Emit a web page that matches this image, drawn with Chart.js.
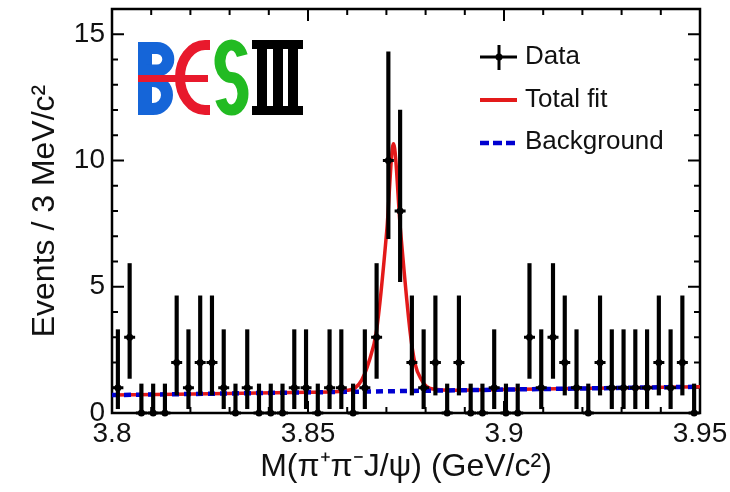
<!DOCTYPE html>
<html>
<head>
<meta charset="utf-8">
<script src="https://cdn.jsdelivr.net/npm/chart.js@4.4.1/dist/chart.umd.min.js"></script>
<style>
  html, body { margin: 0; padding: 0; background: #fff; }
</style>
</head>
<body>
<canvas id="massChart" width="730" height="492"></canvas>
<script>
// 3 MeV bins from 3.80 to 3.95 GeV
const binLow = 3.8;
const binWidth = 0.003;
const counts = [1, 3, 0, 0, 0, 2, 1, 2, 2, 1,
                0, 1, 0, 0, 0, 1, 1, 0, 1, 1,
                0, 1, 3, 10, 8, 2, 1, 2, 0, 2,
                0, 0, 1, 0, 0, 3, 1, 3, 2, 1,
                0, 2, 1, 1, 1, 1, 2, 1, 2, 0];
// error bar ends, per count (asymmetric)
const errLow = { 0: 0, 1: 0.17, 2: 0.71, 3: 1.37, 8: 5.2, 10: 6.9 };
const errHigh = { 0: 1.15, 1: 3.3, 2: 4.64, 3: 5.92, 8: 12.0, 10: 14.3 };

// total fit curve
const fitX = [3.8, 3.85, 3.858, 3.86, 3.862, 3.8637, 3.8654, 3.8675, 3.8701, 3.8718,
              3.8736, 3.876, 3.8773, 3.879, 3.8803, 3.883, 3.886, 3.9, 3.95];
const fitY = [0.71, 0.82, 0.85, 0.9, 0.99, 1.3, 1.96, 3.28, 7.23, 10.66,
              7.23, 3.28, 1.96, 1.3, 1.04, 0.93, 0.9, 0.93, 1.04];
// background
const bkgX = [3.8, 3.875, 3.95];
const bkgY = [0.71, 0.87, 1.04];

const xTicks = [3.8, 3.85, 3.9, 3.95];
const yTicks = [0, 5, 10, 15];

const FONT = "'Liberation Sans', Arial, Helvetica, sans-serif";
const centers = counts.map((c, i) => binLow + binWidth * (i + 0.5));
const points = counts.map((c, i) => ({ x: centers[i], y: c }));

// inward ticks and box around the plot
const framePlugin = {
  id: 'frame',
  beforeDatasetsDraw(chart) {
    const { ctx, chartArea: a, scales: { x, y } } = chart;
    ctx.save();
    ctx.strokeStyle = '#000';
    ctx.lineWidth = 2.5;
    ctx.strokeRect(a.left, a.top, a.right - a.left, a.bottom - a.top);
    ctx.lineWidth = 2;
    ctx.beginPath();
    for (let k = 0; k <= 15; k++) {
      const px = x.getPixelForValue(3.8 + k * 0.01);
      const len = k % 5 === 0 ? 12 : 6;
      ctx.moveTo(px, a.bottom); ctx.lineTo(px, a.bottom - len);
      ctx.moveTo(px, a.top); ctx.lineTo(px, a.top + len);
    }
    for (let v = 0; v <= 16; v++) {
      const py = y.getPixelForValue(v);
      const len = v % 5 === 0 ? 12 : 6;
      ctx.moveTo(a.left, py); ctx.lineTo(a.left + len, py);
      ctx.moveTo(a.right, py); ctx.lineTo(a.right - len, py);
    }
    ctx.stroke();
    ctx.restore();
  }
};

// legend box and experiment logo
const decorPlugin = {
  id: 'decor',
  afterDraw(chart) {
    const ctx = chart.ctx;
    ctx.save();
    // legend
    ctx.lineCap = 'butt';
    ctx.strokeStyle = '#000';
    ctx.lineWidth = 3;
    ctx.beginPath();
    ctx.moveTo(480, 57); ctx.lineTo(517, 57);
    ctx.moveTo(499, 45); ctx.lineTo(499, 70);
    ctx.stroke();
    ctx.fillStyle = '#000';
    ctx.beginPath(); ctx.arc(499, 57, 3.5, 0, Math.PI * 2); ctx.fill();
    ctx.strokeStyle = '#e31a1a';
    ctx.lineWidth = 4;
    ctx.beginPath(); ctx.moveTo(480, 100); ctx.lineTo(517, 100); ctx.stroke();
    ctx.strokeStyle = '#0000d0';
    ctx.lineWidth = 4.5;
    ctx.setLineDash([9, 4]);
    ctx.beginPath(); ctx.moveTo(480, 143); ctx.lineTo(517, 143); ctx.stroke();
    ctx.setLineDash([]);
    ctx.fillStyle = '#111';
    ctx.font = '26px ' + FONT;
    ctx.textBaseline = 'middle';
    ctx.fillText('Data', 525, 57);
    ctx.fillText('Total fit', 525, 100);
    ctx.fillText('Background', 525, 142);

    // BESIII logo
    ctx.fillStyle = '#1565d8';
    ctx.fillRect(138, 42, 14, 73);
    ctx.strokeStyle = '#1565d8';
    ctx.lineWidth = 12;
    ctx.beginPath();
    ctx.moveTo(146, 48); ctx.lineTo(157, 48);
    ctx.arc(157, 59.3, 11.3, -Math.PI / 2, Math.PI / 2);
    ctx.lineTo(146, 70.6);
    ctx.stroke();
    ctx.beginPath();
    ctx.moveTo(146, 81); ctx.lineTo(153, 81);
    ctx.arc(153, 95, 14, -Math.PI / 2, Math.PI / 2);
    ctx.lineTo(146, 109);
    ctx.stroke();
    ctx.strokeStyle = '#e8192c';
    ctx.lineWidth = 10;
    ctx.beginPath();
    ctx.moveTo(210, 110); ctx.lineTo(205, 110);
    ctx.ellipse(205, 77.5, 25, 32.5, 0, Math.PI / 2, Math.PI * 1.5);
    ctx.lineTo(210, 45);
    ctx.stroke();
    ctx.fillStyle = '#e8192c';
    ctx.fillRect(138, 75, 70, 7);
    ctx.strokeStyle = '#22bb22';
    ctx.lineWidth = 11;
    ctx.beginPath();
    ctx.ellipse(231.5, 61.25, 11.5, 16.25, 0, -0.35, Math.PI / 2, true);
    ctx.ellipse(231.5, 93.75, 11.5, 16.25, 0, -Math.PI / 2, Math.PI - 0.35);
    ctx.stroke();
    ctx.fillStyle = '#000';
    ctx.fillRect(252, 40, 51, 9);
    ctx.fillRect(252, 106, 51, 9);
    ctx.fillRect(257, 40, 10, 75);
    ctx.fillRect(273, 40, 10, 75);
    ctx.fillRect(288, 40, 10, 75);
    ctx.restore();
  }
};

new Chart(document.getElementById('massChart'), {
  type: 'scatter',
  data: {
    datasets: [
      {
        label: 'Data',
        data: points,
        pointStyle: 'circle',
        pointRadius: 3.5,
        backgroundColor: '#000',
        borderColor: '#000',
        borderWidth: 0,
        clip: false,
        order: 0
      },
      {
        label: 'bin width',
        data: points,
        pointStyle: 'line',
        pointRadius: 5.5,
        borderColor: '#000',
        borderWidth: 3,
        clip: false,
        order: 1
      },
      {
        type: 'bar',
        label: 'errors',
        data: counts.map((c, i) => ({ x: centers[i], y: [errLow[c], errHigh[c]] })),
        backgroundColor: '#000',
        borderWidth: 0,
        barThickness: 3.5,
        order: 2
      },
      {
        type: 'line',
        label: 'Background',
        data: bkgX.map((v, i) => ({ x: v, y: bkgY[i] })),
        borderColor: '#0000d0',
        borderWidth: 4.5,
        borderDash: [7, 5],
        pointRadius: 0,
        order: 3
      },
      {
        type: 'line',
        label: 'Total fit',
        data: fitX.map((v, i) => ({ x: v, y: fitY[i] })),
        borderColor: '#e31a1a',
        borderWidth: 3.5,
        pointRadius: 0,
        cubicInterpolationMode: 'monotone',
        order: 4
      }
    ]
  },
  options: {
    responsive: false,
    animation: false,
    layout: { padding: { top: 9, right: 30, left: 0, bottom: 0 } },
    plugins: { legend: { display: false }, tooltip: { enabled: false } },
    scales: {
      x: {
        type: 'linear',
        min: 3.8,
        max: 3.95,
        offset: false,
        grid: { display: false, drawTicks: false },
        border: { display: false },
        afterBuildTicks: s => { s.ticks = xTicks.map(v => ({ value: v })); },
        afterFit: s => { s.height = 79; s.paddingLeft = 0; s.paddingRight = 0; },
        ticks: {
          autoSkip: false,
          maxRotation: 0,
          padding: 4,
          color: '#111',
          font: { family: FONT, size: 28 },
          callback: v => String(+v.toFixed(2))
        },
        title: {
          display: true,
          text: 'M(π⁺π⁻J/ψ) (GeV/c²)',
          color: '#111',
          font: { family: FONT, size: 32 },
          padding: { top: 0, bottom: 6 }
        }
      },
      y: {
        min: 0,
        max: 16,
        grid: { display: false, drawTicks: false },
        border: { display: false },
        afterBuildTicks: s => { s.ticks = yTicks.map(v => ({ value: v })); },
        afterFit: s => { s.width = 112; s.paddingTop = 0; s.paddingBottom = 0; },
        ticks: {
          padding: 7,
          color: '#111',
          font: { family: FONT, size: 28 }
        },
        title: {
          display: true,
          text: 'Events / 3 MeV/c²',
          color: '#111',
          font: { family: FONT, size: 32 },
          padding: { top: 26, bottom: 0 }
        }
      }
    }
  },
  plugins: [framePlugin, decorPlugin]
});
</script>
</body>
</html>
